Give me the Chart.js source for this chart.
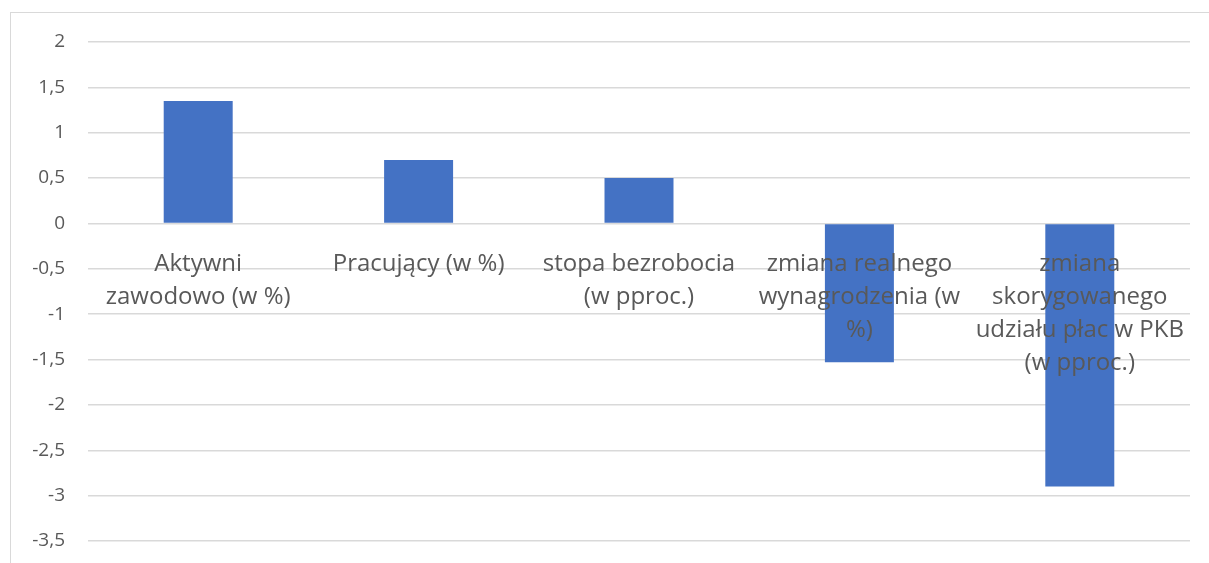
<!DOCTYPE html>
<html>
<head>
<meta charset="utf-8">
<script src="https://cdn.jsdelivr.net/npm/chart.js@4/dist/chart.umd.min.js"></script>
<style>
  html, body { margin: 0; padding: 0; background: #fff; }
  #frame {
    position: absolute; left: 10px; top: 12px; width: 1199px; height: 551px;
    border-top: 1.5px solid #d9d9d9; border-left: 1.5px solid #d9d9d9;
  }
  #wrap { position: absolute; left: 0; top: 0; width: 1209px; height: 563px; }
</style>
</head>
<body>
<div id="frame"></div>
<div id="wrap"><canvas id="chart"></canvas></div>
<script>
// categories and values
const categories = [
  ["Aktywni", "zawodowo (w %)"],
  ["Pracujący (w %)"],
  ["stopa bezrobocia", "(w pproc.)"],
  ["zmiana realnego", "wynagrodzenia (w", "%)"],
  ["zmiana", "skorygowanego", "udziału płac w PKB", "(w pproc.)"]
];
const values = [1.35, 0.7, 0.5, -1.53, -2.9];
const yMin = -3.5;
const yMax = 2;
const yStep = 0.5;

const ctx = document.getElementById("chart").getContext("2d");
new Chart(ctx, {
  type: "bar",
  data: {
    labels: categories,
    datasets: [
      {
        data: values,
        backgroundColor: "#4472C4",
        borderWidth: 0,
        categoryPercentage: 1,
        barPercentage: 0.313,
      },
    ],
  },
  options: {
    responsive: true,
    maintainAspectRatio: false,
    animation: false,
    layout: { padding: { left: 0, top: 42, right: 19, bottom: 22 } },
    plugins: { legend: { display: false }, tooltip: { enabled: false } },
    scales: {
      x: {
        position: { y: 0 },
        grid: { display: false },
        border: { display: false },
        ticks: {
          z: 1, // labels sit on top of the bars
          color: "#595959",
          font: { family: "Open Sans", size: 24, lineHeight: 1.38 },
          padding: 16,
          maxRotation: 0,
          autoSkip: false,
        },
        // axis sits inside the plot, so it should not eat layout space
        afterFit: (scale) => {
          scale.height = 0;
        },
      },
      y: {
        min: yMin,
        max: yMax,
        border: { display: false },
        grid: { color: "#d9d9d9", lineWidth: 1.5, drawTicks: false },
        ticks: {
          stepSize: yStep,
          color: "#595959",
          font: { family: "Open Sans", size: 19 },
          padding: 23,
          callback: (v) => String(v).replace(".", ","),
        },
        afterFit: (scale) => {
          scale.width = 88;
          // tick padding gets added to the top/bottom padding, drop it
          scale.paddingTop = 0;
          scale.paddingBottom = 0;
        },
      },
    },
  },
});
</script>
</body>
</html>
